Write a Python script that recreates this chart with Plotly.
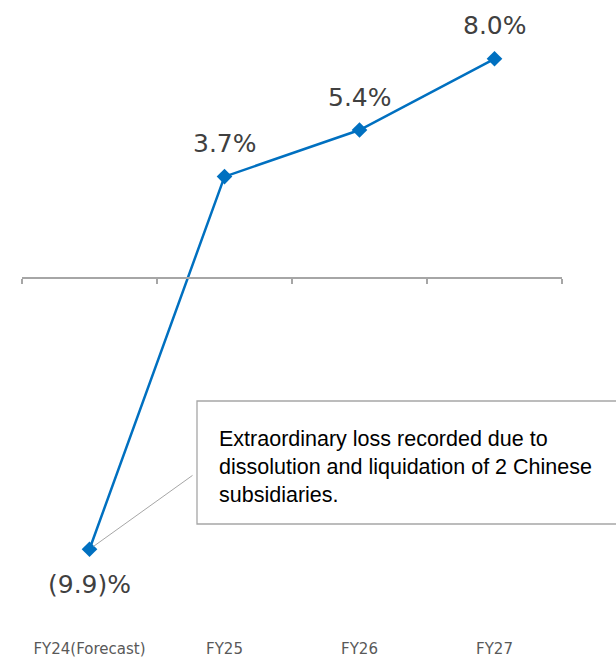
import plotly.graph_objects as go

categories = ["FY24(Forecast)", "FY25", "FY26", "FY27"]
values = [-9.9, 3.7, 5.4, 8.0]
labels = ["(9.9)%", "3.7%", "5.4%", "8.0%"]
note_lines = ["Extraordinary loss recorded due to",
              "dissolution and liquidation of 2 Chinese",
              "subsidiaries."]

W, H = 616, 657
ML, MR, MT, MB = 22, 54, 0, 19
PW, PH = W - ML - MR, H - MT - MB
ZERO_PX = 278
SCALE = 27.4  # px per unit
y_top = (ZERO_PX - MT) / SCALE
y_bot = -(MT + PH - ZERO_PX) / SCALE


def px_x(p):
    return (p - ML) / PW


def px_y(p):
    return (MT + PH - p) / PH


BLUE = "#0070C0"
GRAY = "#A6A6A6"

fig = go.Figure()
fig.add_trace(go.Scatter(
    x=categories, y=values, mode="lines+markers",
    line=dict(color=BLUE, width=2.5),
    marker=dict(symbol="diamond", size=12, color=BLUE),
    hoverinfo="skip", showlegend=False, xaxis="x", yaxis="y"))
fig.add_trace(go.Scatter(
    x=categories, y=values, mode="markers", marker=dict(opacity=0),
    hoverinfo="skip", showlegend=False, xaxis="x2", yaxis="y"))

for c, v, t in zip(categories, values, labels):
    fig.add_annotation(x=c, y=v, xref="x", yref="y", text=t, showarrow=False,
                       xanchor="center", yanchor="middle",
                       yshift=33 if v >= 0 else -35,
                       font=dict(family="DejaVu Sans", size=25, color="#404040"))

# callout leader line
fig.add_annotation(x=categories[0], y=values[0], xref="x", yref="y", text=" ",
                   showarrow=True, arrowhead=0, arrowwidth=1, arrowcolor=GRAY,
                   ax=106, ay=-76, standoff=5)

# callout box
fig.add_shape(type="rect", xref="paper", yref="paper",
              x0=px_x(197), x1=px_x(640), y0=px_y(524), y1=px_y(401),
              line=dict(color=GRAY, width=1.3), fillcolor="white", layer="above")

fig.add_annotation(xref="paper", yref="paper", x=px_x(217), y=px_y(425),
                   xanchor="left", yanchor="top", align="left", showarrow=False,
                   text="<br>".join(note_lines),
                   font=dict(family="Liberation Sans", size=21.5, color="#000000"))

fig.update_layout(
    width=W, height=H, margin=dict(l=ML, r=MR, t=MT, b=MB),
    paper_bgcolor="white", plot_bgcolor="white",
    xaxis=dict(type="category", categoryorder="array", categoryarray=categories,
               range=[-0.5, 3.5], anchor="free", position=px_y(ZERO_PX),
               showline=True, linecolor=GRAY, linewidth=1.5,
               ticks="outside", ticklen=5, tickwidth=1.5, tickcolor=GRAY,
               tickson="boundaries", showticklabels=False, showgrid=False,
               zeroline=False, fixedrange=True),
    xaxis2=dict(type="category", categoryorder="array", categoryarray=categories,
                range=[-0.5, 3.5], overlaying="x", anchor="y", side="bottom",
                showline=False, ticks="", showgrid=False, zeroline=False,
                tickfont=dict(family="DejaVu Sans", size=15, color="#595959")),
    yaxis=dict(range=[y_bot, y_top], visible=False, showgrid=False,
               zeroline=False, fixedrange=True),
)

fig.write_html("out.html")
